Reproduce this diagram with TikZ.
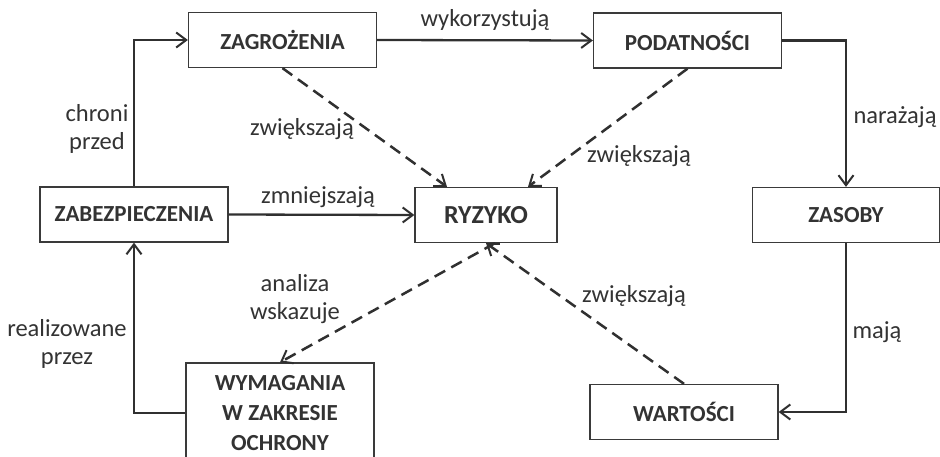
\documentclass[tikz,border=0pt]{standalone}
\usepackage{fontspec}
\setmainfont{Carlito}
\usetikzlibrary{arrows.meta,calc}
\definecolor{linec}{HTML}{303030}
\definecolor{boxc}{HTML}{3A3A3A}
\definecolor{txtc}{HTML}{333333}
\begin{document}
\begin{tikzpicture}[x=1pt,y=-1pt,
 box/.style={draw=boxc, line width=1.3pt, rectangle, minimum width=188pt, minimum height=55pt, inner sep=0pt, font=\fontsize{23}{27}\selectfont\bfseries, text=txtc},
 lbl/.style={font=\fontsize{24.5}{28}\selectfont, text=txtc, align=center, inner sep=0pt},
 conn/.style={draw=linec, line width=2.3pt, -{Straight Barb[length=10pt,width=15pt,line width=2pt]}},
 dconn/.style={conn, line width=2.5pt, dash pattern=on 12pt off 7pt}]
\clip (0,0) rectangle (940,457);
\fill[white] (0,0) rectangle (940,457);
\node[box] (zagr) at (282.5,40) {ZAGROŻENIA};
\node[box] (pod) at (687.5,40.5) {PODATNOŚCI};
\node[box] (zab) at (134,214.5) {ZABEZPIECZENIA};
\node[box, minimum width=142pt, font=\fontsize{26}{30}\selectfont\bfseries] (ryz) at (486,215) {RYZYKO};
\node[box, minimum width=187pt] (zas) at (846,215) {ZASOBY};
\node[box, minimum height=100pt, align=center, font=\fontsize{23}{30}\selectfont\bfseries] (wym) at (280,413) {WYMAGANIA\\W ZAKRESIE\\OCHRONY};
\node[box] (war) at (684,412) {WARTOŚCI};
\draw[conn] (zab.north) |- (zagr.west);
\draw[conn] (zagr.east) -- (pod.west);
\draw[conn] (pod.east) -| (zas.north);
\draw[conn] (zas.south) |- (war.east);
\draw[conn] (wym.west) -| (zab.south);
\draw[conn] (zab.east) -- (ryz.west);
\draw[dconn] (zagr.south) -- ($(ryz.north)+(-39,0)$);
\draw[dconn] (pod.south) -- ($(ryz.north)+(42,0)$);
\draw[dconn] ($(ryz.south)+(9,0)$) -- (wym.north);
\draw[dconn] (war.north) -- (ryz.south);
\node[lbl] (l1) at (485,20) {wykorzystują};
\node[lbl] (l2) at (97,129) {chroni\\przed};
\node[lbl] (l3) at (302,129) {zwiększają};
\node[lbl] (l4) at (318,197) {zmniejszają};
\node[lbl] (l5) at (639,156) {zwiększają};
\node[lbl] (l6) at (895,117) {narażają};
\node[lbl] (l7) at (295,299) {analiza\\wskazuje};
\node[lbl] (l8) at (67,344) {realizowane\\przez};
\node[lbl] (l9) at (634,296) {zwiększają};
\node[lbl] (l10) at (877,332) {mają};
\end{tikzpicture}
\end{document}
